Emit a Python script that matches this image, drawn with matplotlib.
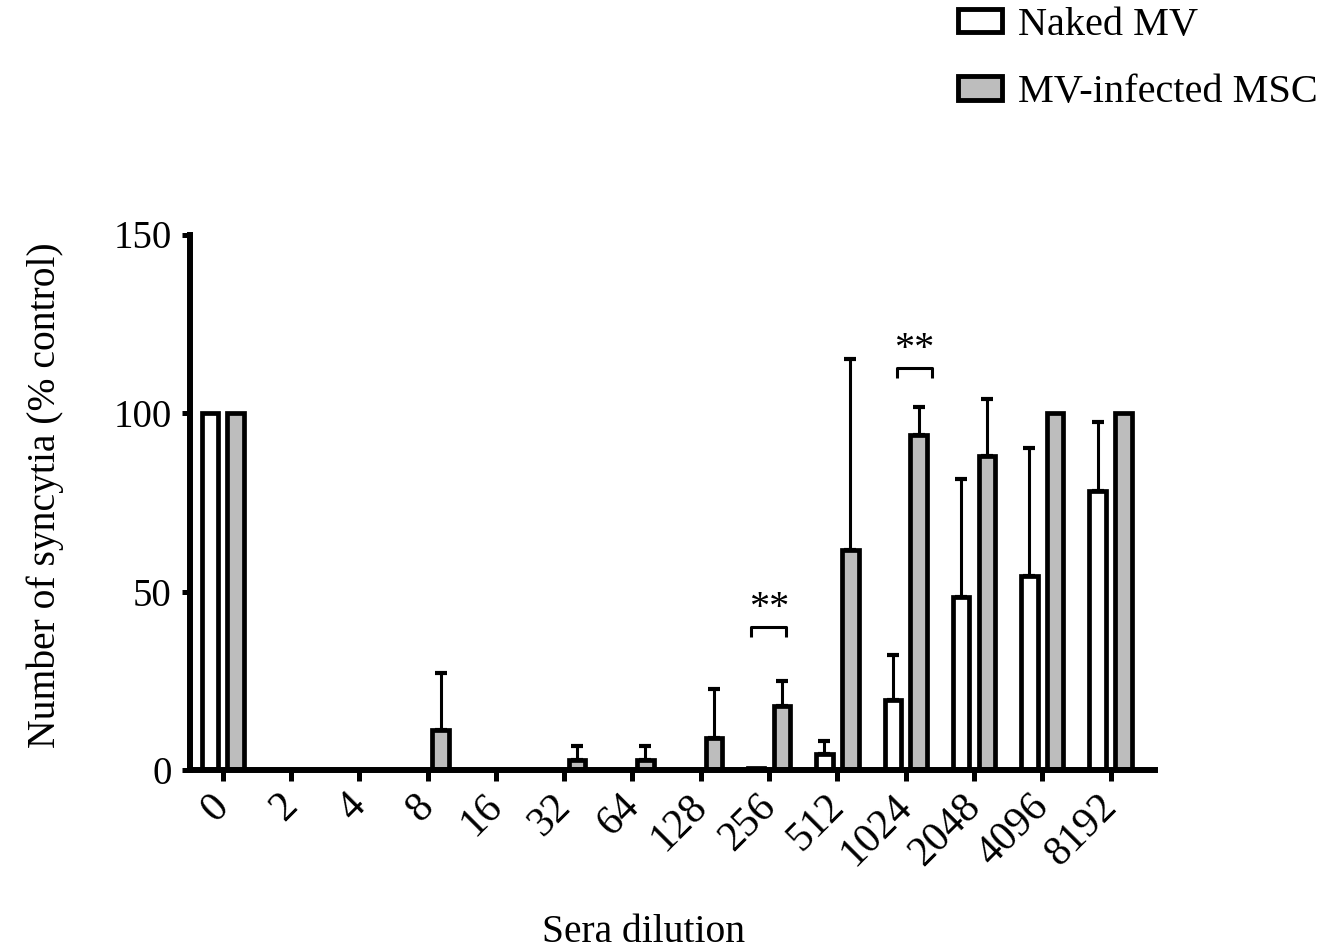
import numpy as np
import matplotlib
matplotlib.use("Agg")
import matplotlib.pyplot as plt
from matplotlib.patches import Patch
import matplotlib.transforms as mtrans

plt.rcParams['font.family'] = ['Liberation Serif', 'DejaVu Serif']

categories = ['0', '2', '4', '8', '16', '32', '64', '128', '256', '512',
              '1024', '2048', '4096', '8192']
naked = [100, 0, 0, 0, 0, 0, 0, 0, 0.7, 4.5, 19.6, 48.5, 54.3, 78.2]
naked_err = [0, 0, 0, 0, 0, 0, 0, 0, 0, 3.6, 12.5, 33.0, 35.8, 19.2]
msc = [100, 0, 0, 11.2, 0, 2.8, 2.8, 9.0, 17.9, 61.6, 93.8, 88.0, 100, 100]
msc_err = [0, 0, 0, 16.0, 0, 3.8, 3.8, 13.6, 7.0, 53.6, 8.0, 16.0, 0, 0]
yticks = [0, 50, 100, 150]
signif = [('256', 40.0), ('1024', 112.6)]

W, H = 1321, 948
fig = plt.figure(figsize=(W / 100, H / 100), dpi=100)
ax = fig.add_axes([189.7 / W, 1 - 770 / H, (1155 - 189.7) / W, (770 - 234.5) / H])

x = np.arange(len(categories))
off = 0.19
bw = 0.24
lw_bar = 3.4
gray = '#bdbdbd'

ax.bar(x - off, naked, width=bw, color='white', edgecolor='black', linewidth=lw_bar, zorder=2)
ax.bar(x + off, msc, width=bw, color=gray, edgecolor='black', linewidth=lw_bar, zorder=2)

for xs, vals, errs in [(x - off, naked, naked_err), (x + off, msc, msc_err)]:
    vals = np.asarray(vals, float)
    errs = np.asarray(errs, float)
    m = errs > 0
    ax.errorbar(xs[m], vals[m], yerr=[np.zeros(m.sum()), errs[m]], fmt='none',
                ecolor='black', elinewidth=2.2, capsize=4.2, capthick=3.0, zorder=1.5)

for cat, yb in signif:
    i = categories.index(cat)
    x0, x1 = i - 0.26, i + 0.25
    if cat == '1024':
        x0, x1 = i - 0.13, i + 0.38
    ax.plot([x0, x0, x1, x1], [yb - 2.8, yb, yb, yb - 2.8], color='black', lw=2.2,
            solid_capstyle='butt', clip_on=False)
    ax.text((x0 + x1) / 2, yb + 0.1, '**', ha='center', va='bottom', fontsize=29)

ax.set_xlim(-0.483, 13.65)
ax.set_ylim(0, 150)

for s in ['top', 'right']:
    ax.spines[s].set_visible(False)
for s in ['left', 'bottom']:
    ax.spines[s].set_linewidth(4.3)
    ax.spines[s].set_zorder(3)
ax.tick_params(axis='y', length=6, width=3.6, pad=7)
ax.tick_params(axis='x', length=8, width=3.6, pad=4)

ax.set_yticks(yticks)
ax.set_yticklabels([str(v) for v in yticks], fontsize=28)
ax.set_xticks(x)
ax.set_xticklabels(categories, fontsize=30, rotation=45, ha='right', va='center',
                   rotation_mode='anchor')
shift = mtrans.ScaledTranslation(0.5 / 72, -10 / 72, fig.dpi_scale_trans)
for lab in ax.get_xticklabels():
    lab.set_transform(lab.get_transform() + shift)

fig.text(45 / W, 1 - 495 / H, 'Number of syncytia (% control)', rotation=90,
         ha='center', va='center', fontsize=28.5)
fig.text(644 / W, 1 - 932 / H, 'Sera dilution', ha='center', va='center', fontsize=28.5)

handles = [Patch(facecolor='white', edgecolor='black', linewidth=3.5),
           Patch(facecolor=gray, edgecolor='black', linewidth=3.5)]
fig.legend(handles, ['Naked MV', 'MV-infected MSC'], loc='upper left',
           bbox_to_anchor=(958 / W, 1 - 7 / H), frameon=False, fontsize=29,
           handlelength=1.1, handleheight=0.52, handletextpad=0.4,
           labelspacing=0.75, borderpad=0, borderaxespad=0)

fig.savefig('out.png', dpi=100)
